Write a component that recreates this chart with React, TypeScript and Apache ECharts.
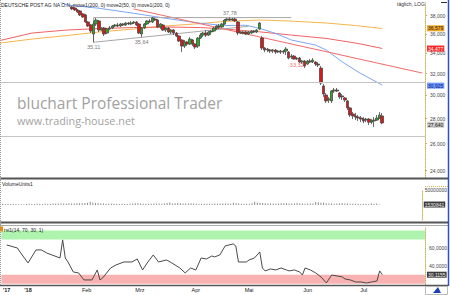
import { useEffect, useRef } from "react";
import * as echarts from "echarts";

const FONT = "'Liberation Sans', Arial, sans-serif";
const TITLE = "DEUTSCHE POST AG NA O.N. move1(200, 0) move2(50, 0) move1(200, 0)";

const FIRST_DAY = "2017-12-14";
const SLOT_COUNT = 160;
const HOLIDAYS = ["2017-12-25", "2017-12-26", "2018-01-01", "2018-03-30", "2018-04-02", "2018-05-01"];
const X_LABELS: [string, string][] = [
  ["2017-12-18", "'17"], ["2018-01-02", "'18"], ["2018-02-01", "Feb"], ["2018-03-01", "Mrz"],
  ["2018-04-03", "Apr"], ["2018-05-02", "Mai"], ["2018-06-01", "Jun"], ["2018-07-02", "Jul"],
];

const PRICE_MIN = 23.48;
const PRICE_MAX = 39.45;
const PRICE_TICKS = [24, 26, 28, 30, 32, 34, 36, 38];
const VOLUME_TICKS = [50000000];
const RSI_TICKS = [40, 60];

// [open, close, low, high] per trading day
const candles: number[][] = [
  [40.0, 40.1, 39.85, 40.25], [40.1, 40.3, 39.95, 40.45], [40.3, 40.05, 39.9, 40.4], [40.05, 39.85, 39.7, 40.15],
  [39.85, 40.0, 39.75, 40.1], [40.0, 40.2, 39.9, 40.3], [40.2, 40.1, 39.95, 40.35], [40.1, 39.95, 39.85, 40.2],
  [39.95, 39.8, 39.7, 40.05], [39.8, 39.7, 39.62, 39.9], [39.7, 39.75, 39.62, 39.85], [39.75, 40.1, 39.7, 40.2],
  [40.1, 40.35, 40.0, 40.45], [40.35, 40.3, 40.15, 40.5], [40.3, 40.45, 40.2, 40.6], [40.45, 40.25, 40.1, 40.55],
  [40.25, 40.2, 40.05, 40.35], [40.2, 40.1, 39.95, 40.3], [40.1, 40.0, 39.85, 40.2], [40.0, 39.95, 39.8, 40.15],
  [39.95, 39.9, 39.75, 40.05], [39.9, 40.4, 39.85, 40.55], [40.4, 40.6, 40.3, 40.75], [40.6, 40.3, 40.2, 40.7],
  [40.3, 40.0, 39.9, 40.4], [40.0, 39.75, 39.65, 40.1], [39.75, 39.65, 39.6, 39.9],
  [38.99, 38.76, 38.64, 39.1], [38.87, 38.64, 38.53, 38.99], [38.64, 38.41, 38.3, 38.76], [38.53, 38.07, 37.96, 38.64],
  [38.19, 37.85, 37.74, 38.3], [38.07, 37.29, 37.18, 38.19], [37.29, 36.85, 36.74, 37.4], [36.96, 36.3, 36.09, 37.07],
  [35.98, 37.07, 35.11, 37.4], [37.07, 37.51, 36.85, 37.74], [37.4, 36.41, 36.2, 37.51], [36.41, 36.63, 36.3, 36.74],
  [36.63, 35.98, 35.77, 36.74], [36.09, 36.52, 35.98, 36.63], [36.52, 36.63, 36.41, 36.85], [36.63, 36.85, 36.52, 36.96],
  [36.85, 36.96, 36.74, 37.07], [36.96, 36.85, 36.74, 37.18], [36.85, 37.07, 36.74, 37.18], [37.07, 36.96, 36.85, 37.18],
  [36.96, 37.18, 36.85, 37.29], [37.18, 37.07, 36.96, 37.29], [37.07, 37.18, 36.96, 37.4], [37.18, 37.29, 37.07, 37.4],
  [37.29, 36.96, 36.85, 37.4], [37.07, 36.09, 35.98, 37.18], [35.98, 36.63, 35.64, 36.74], [36.63, 37.07, 36.52, 37.18],
  [37.07, 37.4, 36.96, 37.51], [37.4, 37.29, 37.18, 37.62], [37.29, 37.74, 37.18, 37.85], [37.62, 37.51, 37.4, 37.74],
  [37.51, 36.74, 36.63, 37.62], [36.74, 37.07, 36.52, 37.18], [36.96, 36.41, 36.3, 37.07], [36.41, 36.63, 36.2, 36.74],
  [36.63, 36.2, 36.09, 36.74], [36.2, 36.41, 35.98, 36.52], [36.41, 36.09, 35.87, 36.52], [36.09, 35.77, 35.66, 36.2],
  [35.77, 35.24, 35.14, 35.87], [35.35, 34.72, 34.11, 35.45], [34.72, 35.14, 34.52, 35.35], [35.14, 34.93, 34.72, 35.24],
  [34.93, 35.45, 34.83, 35.66], [35.35, 34.93, 34.72, 35.45], [34.93, 34.62, 34.42, 35.03], [34.72, 35.56, 34.52, 35.66],
  [35.56, 35.87, 35.45, 36.09], [35.87, 36.09, 35.66, 36.2], [36.09, 35.87, 35.66, 36.41], [35.87, 36.2, 35.77, 36.3],
  [36.2, 36.3, 35.87, 36.41], [36.3, 36.63, 36.2, 36.74], [36.63, 36.85, 36.41, 36.96], [36.85, 36.74, 36.52, 37.07],
  [36.74, 37.07, 36.63, 37.18], [37.07, 37.51, 36.96, 37.62], [37.51, 37.62, 37.4, 37.74], [37.62, 37.51, 37.4, 37.78],
  [37.51, 37.62, 37.4, 37.74], [37.62, 37.4, 37.29, 37.74], [37.29, 36.09, 35.87, 37.4], [36.09, 36.2, 35.98, 36.3],
  [36.2, 36.05, 35.95, 36.3], [36.2, 35.98, 35.87, 36.3], [35.98, 36.2, 35.87, 36.3], [36.09, 36.3, 35.98, 36.41],
  [36.3, 36.2, 36.09, 36.41], [36.2, 36.41, 36.09, 36.52], [36.52, 37.18, 36.41, 37.29], [35.56, 34.52, 34.32, 35.77],
  [34.52, 34.32, 34.11, 34.62], [34.32, 34.42, 34.11, 34.52], [34.32, 34.21, 34.01, 34.42], [34.21, 34.32, 34.01, 34.42],
  [34.32, 34.11, 33.91, 34.42], [34.11, 34.21, 34.01, 34.32], [34.21, 34.11, 33.91, 34.32], [34.11, 34.21, 33.91, 34.32],
  [34.21, 34.42, 33.81, 34.62], [34.11, 33.51, 33.38, 34.21], [33.61, 33.71, 33.41, 33.91], [33.71, 33.41, 33.35, 33.81],
  [33.41, 33.51, 33.32, 33.61], [33.51, 33.12, 33.02, 33.61], [33.12, 33.21, 32.92, 33.31], [33.21, 32.73, 32.53, 33.31],
  [32.92, 33.21, 32.82, 33.31], [33.21, 33.12, 33.02, 33.41], [33.12, 33.31, 33.02, 33.51], [33.12, 32.92, 32.73, 33.21],
  [32.92, 32.82, 32.63, 33.12], [32.53, 31.12, 30.94, 32.73], [30.85, 30.12, 29.86, 31.03], [30.03, 29.51, 29.33, 30.21],
  [29.59, 29.68, 29.33, 29.86], [29.51, 30.39, 29.33, 30.48], [30.39, 30.48, 30.21, 30.66], [30.48, 30.39, 30.3, 30.66],
  [30.21, 29.86, 29.68, 30.3], [29.95, 29.86, 29.59, 30.12], [29.77, 29.59, 29.42, 29.86], [29.51, 28.9, 28.72, 29.59],
  [28.9, 28.3, 28.13, 28.99], [28.39, 28.22, 27.96, 28.55], [28.22, 28.13, 27.88, 28.47], [28.13, 28.05, 27.8, 28.3],
  [28.05, 27.96, 27.71, 28.22], [27.96, 27.8, 27.63, 28.13], [27.88, 27.96, 27.71, 28.05], [27.96, 27.71, 27.47, 28.05],
  [27.71, 27.8, 27.55, 27.96], [27.8, 27.88, 27.31, 28.13], [27.88, 28.05, 27.8, 28.3], [28.05, 28.3, 27.96, 28.55],
  [28.22, 27.64, 27.55, 28.47],
];

// moving averages: [trading-day index, value]
const maOrange: [number, number][] = [
  [0, 35.03], [12, 35.45], [25, 35.82], [37, 36.2], [50, 36.52], [62, 36.85], [75, 37.12],
  [84, 37.35], [97, 37.51], [108, 37.4], [122, 37.18], [133, 36.9], [143, 36.579],
];
const maRed: [number, number][] = [
  [0, 35.3], [12, 36.09], [25, 36.41], [37, 36.57], [50, 36.68], [62, 36.74], [75, 36.68],
  [84, 36.52], [97, 36.22], [109, 35.87], [122, 35.52], [134, 34.99], [143, 34.477],
];
const maBlue: [number, number][] = [
  [18, 40.2], [25, 39.22], [37, 38.84], [50, 38.27], [62, 37.7], [75, 37.15], [84, 36.9], [92, 36.93],
  [97, 36.6], [103, 36.06], [109, 35.35], [118, 34.83], [122, 34.32], [128, 33.14], [134, 32.15], [143, 30.925],
];

// drawn lines
const trendRed: [number, number][] = [[50, 38.76], [158, 32.05]];
const rangeBox: [number, number][] = [[109, 37.78], [35, 37.78], [35, 35.11], [93, 36.82]];
const levelLines = [31.2, 26.45];
const pivots: { slot: number; value: number; pos: "top" | "bottom"; color: string }[] = [
  { slot: 35, value: 35.11, pos: "bottom", color: "#7a7a7a" },
  { slot: 53, value: 35.64, pos: "bottom", color: "#7a7a7a" },
  { slot: 86, value: 37.78, pos: "top", color: "#7a7a7a" },
  { slot: 111, value: 33.32, pos: "bottom", color: "#f07070" },
];

// volume in millions
const volumeM = [
  3.2, 3.8, 3.5, 4.1, 3.6, 3.9, 3.0, 2.4, 2.2, 2.1,
  3.4, 3.9, 3.3, 3.6, 4.2, 3.8, 3.5, 3.9, 4.4, 3.7,
  5.2, 4.8, 4.1, 4.6, 5.1, 4.4, 5.8, 5.3, 4.9, 5.6,
  6.2, 5.9, 6.8, 7.4, 10.5, 8.2, 6.4, 5.7, 5.1, 4.8,
  4.3, 4.0, 3.8, 4.2, 3.9, 3.6, 4.1, 3.7, 3.5, 4.0,
  4.6, 6.1, 5.8, 4.9, 4.4, 4.0, 3.9, 4.2, 5.0, 4.5,
  4.8, 4.3, 5.2, 6.9, 8.7, 5.4, 5.9, 6.6, 5.5, 4.9,
  4.7, 5.1, 5.6, 5.3, 4.5, 4.1, 3.8, 4.2, 3.9, 4.4,
  4.0, 4.6, 4.3, 4.8, 5.2, 4.7, 4.9, 4.1, 7.8, 6.0,
  4.8, 4.4, 4.1, 4.0, 3.8, 5.5, 11.2, 8.4, 7.1, 6.3,
  5.9, 5.4, 5.0, 4.7, 4.5, 4.9, 6.2, 5.1, 5.5, 4.8,
  5.3, 5.0, 6.4, 5.2, 4.6, 4.4, 4.9, 5.1, 5.4, 10.3,
  8.8, 7.2, 8.1, 6.0, 5.2, 4.8, 4.5, 4.9, 5.6, 5.9,
  5.1, 4.6, 4.2, 4.0, 4.4, 3.9, 3.6, 3.8, 4.1, 3.7,
  4.6, 4.3, 4.9, 1.530841,
];

const rsi: [number, number][] = [
  [2, 63.7], [4, 62.0], [6, 60.3], [7, 55.8], [10, 43.4], [13, 58.1], [15, 58.1], [17, 54.7], [19, 52.4],
  [22, 49.0], [23, 69.4], [24, 49.0], [25, 44.5], [27, 33.2], [29, 32.1], [31, 24.2], [34, 24.2], [36, 35.5],
  [37, 24.2], [38, 26.4], [41, 37.7], [43, 41.1], [46, 44.5], [49, 44.5], [51, 47.9], [53, 35.5], [55, 44.5],
  [57, 52.4], [59, 44.5], [62, 46.8], [64, 43.4], [67, 37.7], [69, 32.1], [71, 37.7], [73, 35.5], [75, 49.0],
  [77, 47.9], [79, 51.3], [80, 50.2], [82, 52.4], [84, 62.6], [87, 64.9], [88, 62.6], [89, 44.5], [92, 44.5],
  [93, 46.8], [95, 49.0], [97, 55.8], [98, 37.7], [99, 34.4], [101, 36.6], [103, 35.5], [105, 37.7], [107, 35.5],
  [108, 34.4], [110, 35.5], [112, 33.2], [113, 29.8], [114, 37.7], [116, 35.5], [118, 32.1], [120, 27.6],
  [122, 20.8], [124, 29.8], [126, 28.7], [128, 27.6], [129, 25.3], [131, 24.2], [133, 21.9], [135, 21.9],
  [137, 20.8], [139, 21.9], [141, 23.1], [142, 34.4], [143, 30.1155],
];
const RSI_BANDS: [number, number, string][] = [[70, 80, "#aef3ae"], [20, 30, "#f8b2b2"]];

function tradingDays(start: string, n: number): string[] {
  const out: string[] = [];
  const d = new Date(start + "T00:00:00Z");
  while (out.length < n) {
    const dow = d.getUTCDay();
    const s = d.toISOString().slice(0, 10);
    if (dow !== 0 && dow !== 6 && !HOLIDAYS.includes(s)) out.push(s);
    d.setUTCDate(d.getUTCDate() + 1);
  }
  return out;
}

const L = Math.log;
const de = (v: number, digits: number) => v.toFixed(digits).replace(".", ",");

function valueBox(v: number, text: string, bg: string, fg: string, dy = 0) {
  return {
    yAxis: v,
    lineStyle: { width: 0, color: "rgba(0,0,0,0)" },
    label: {
      show: true, position: "end", distance: 2, formatter: text, offset: [0, dy],
      backgroundColor: bg, color: fg, fontSize: 5, fontFamily: FONT, padding: [1, 1, 0, 1],
    },
  };
}

function buildOption() {
  const dates = tradingDays(FIRST_DAY, SLOT_COUNT);
  const labelMap: Record<string, string> = {};
  X_LABELS.forEach(([d, t]) => (labelMap[d] = t));
  const logPairs = (arr: [number, number][]) => arr.map(([s, v]) => [s, L(v)]);
  const lastClose = candles[candles.length - 1][1];
  const lastVol = volumeM[volumeM.length - 1] * 1e6;
  const lastRsi = rsi[rsi.length - 1][1];

  const maSeries = (data: [number, number][], color: string, bg: string, fg: string) => {
    const last = data[data.length - 1][1];
    return {
      type: "line", xAxisIndex: 0, yAxisIndex: 0, data: logPairs(data), showSymbol: false, silent: true,
      lineStyle: { color, width: 1 }, z: 3,
      markLine: { silent: true, symbol: ["none", "none"], data: [valueBox(L(last), de(last, 3), bg, fg)] },
    };
  };

  const xAxisBase = {
    type: "category", data: dates, boundaryGap: false,
    axisLine: { show: false }, axisTick: { show: false }, splitLine: { show: false },
  };

  return {
    animation: false,
    textStyle: { fontFamily: FONT },
    grid: [
      { left: 0, right: 25, top: 3, height: 175 },
      { left: 0, right: 25, top: 190, height: 30 },
      { left: 0, right: 25, top: 227, height: 58 },
    ],
    xAxis: [
      { ...xAxisBase, gridIndex: 0, axisLabel: { show: false } },
      { ...xAxisBase, gridIndex: 1, axisLabel: { show: false } },
      {
        ...xAxisBase, gridIndex: 2,
        axisLabel: {
          show: true, margin: 2, fontSize: 5.5, color: "#222",
          interval: (_i: number, v: string) => labelMap[v] !== undefined,
          formatter: (v: string) => {
            const t = labelMap[v] || "";
            return t.startsWith("'") ? `{b|${t}}` : t;
          },
          rich: { b: { fontWeight: "bold", fontSize: 5.5, color: "#222" } },
        },
      },
    ],
    yAxis: [
      {
        type: "value", gridIndex: 0, position: "right", min: L(PRICE_MIN), max: L(PRICE_MAX),
        splitLine: { show: false },
        axisLine: { show: true, lineStyle: { color: "#cbb45c", type: "dotted" } },
        axisTick: { show: true, length: 2, customValues: PRICE_TICKS.map(L), lineStyle: { color: "#cbb45c" } },
        axisLabel: {
          customValues: PRICE_TICKS.map(L), margin: 5, fontSize: 5, color: "#444",
          formatter: (v: number) => de(Math.exp(v), 3),
        },
      },
      {
        type: "value", gridIndex: 1, position: "right", min: -50000000, max: 50000000,
        splitLine: { show: false },
        axisLine: { show: true, lineStyle: { color: "#cbb45c", type: "dotted" } },
        axisTick: { show: false },
        axisLabel: { customValues: VOLUME_TICKS, margin: 3, fontSize: 5, color: "#444", formatter: (v: number) => String(v) },
      },
      {
        type: "value", gridIndex: 2, position: "right", min: 18.5, max: 84,
        splitLine: { show: false },
        axisLine: { show: true, lineStyle: { color: "#cbb45c", type: "dotted" } },
        axisTick: { show: false },
        axisLabel: { customValues: RSI_TICKS, margin: 4, fontSize: 5, color: "#444", formatter: (v: number) => de(v, 4) },
      },
    ],
    series: [
      {
        type: "candlestick", xAxisIndex: 0, yAxisIndex: 0, barWidth: 3, clip: true, silent: true, z: 4,
        data: candles.map((c) => c.map(L)),
        itemStyle: { color: "#22b022", color0: "#e01515", borderColor: "#4a4a4a", borderColor0: "#4a4a4a", borderWidth: 0.8 },
        markLine: {
          silent: true, symbol: ["none", "none"],
          data: [
            ...levelLines.map((v) => ({ yAxis: L(v), lineStyle: { color: "#c4c4c4", width: 1, type: "solid" }, label: { show: false } })),
            valueBox(L(lastClose), de(lastClose, 3), "#cfcfcf", "#111", 2),
          ],
        },
        markPoint: {
          silent: true,
          data: pivots.map((p) => ({
            coord: [p.slot, L(p.value)], symbol: "circle", symbolSize: 0,
            label: { show: true, position: p.pos, distance: 2, formatter: de(p.value, 2), fontSize: 5.5, color: p.color, fontFamily: FONT },
          })),
        },
      },
      maSeries(maOrange, "#f7b54c", "#f0a428", "#222"),
      maSeries(maRed, "#f26262", "#ff2626", "#fff"),
      maSeries(maBlue, "#7ea6f5", "#6a98ff", "#14206e"),
      {
        type: "line", xAxisIndex: 0, yAxisIndex: 0, data: logPairs(trendRed), showSymbol: false, silent: true,
        lineStyle: { color: "#f46a6a", width: 1 }, z: 3,
      },
      {
        type: "line", xAxisIndex: 0, yAxisIndex: 0, data: logPairs(rangeBox), showSymbol: false, silent: true,
        lineStyle: { color: "#a8a8a8", width: 1 }, z: 3,
      },
      {
        type: "bar", xAxisIndex: 1, yAxisIndex: 1, barWidth: 1, silent: true,
        data: volumeM.map((v) => Math.round(v * 1e6)),
        itemStyle: { color: "#8c8c8c" },
        markLine: { silent: true, symbol: ["none", "none"], data: [valueBox(lastVol, String(Math.round(lastVol)), "#3c3c3c", "#f0f0f0")] },
      },
      {
        type: "line", xAxisIndex: 2, yAxisIndex: 2, data: rsi, showSymbol: false, silent: true,
        lineStyle: { color: "#4a4a4a", width: 1 }, z: 3,
        markArea: {
          silent: true,
          data: RSI_BANDS.map(([a, b, c]) => [{ yAxis: a, itemStyle: { color: c, opacity: 1 } }, { yAxis: b }]),
        },
        markLine: { silent: true, symbol: ["none", "none"], data: [valueBox(lastRsi, de(lastRsi, 4), "#3c3c3c", "#f0f0f0")] },
      },
    ],
    graphic: [
      { type: "text", left: 17, top: 95, z: 0, silent: true, style: { text: "bluchart Professional Trader", fontSize: 15.5, fontFamily: "'Open Sans', sans-serif", fill: "#a2a2a2" } },
      { type: "text", left: 17, top: 115, z: 0, silent: true, style: { text: "www.trading-house.net", fontSize: 10.8, fontFamily: "'Open Sans', sans-serif", fill: "#a2a2a2" } },
      { type: "text", left: 1, top: 2, z: 10, silent: true, style: { text: TITLE, fontSize: 5, fontFamily: FONT, fill: "#222" } },
      { type: "text", left: 397, top: 1, z: 10, silent: true, style: { text: "täglich, LOG", fontSize: 5, fontFamily: FONT, fill: "#333" } },
      { type: "text", left: 2, top: 181, z: 10, silent: true, style: { text: "VolumeUnits1", fontSize: 5, fontFamily: FONT, fill: "#222" } },
      { type: "rect", z: 10, silent: true, shape: { x: 0, y: 226.5, width: 3, height: 5 }, style: { fill: "#f08a00" } },
      { type: "text", left: 4, top: 227, z: 10, silent: true, style: { text: "rsi1(14, 70, 30, 1)", fontSize: 5, fontFamily: FONT, fill: "#222" } },
      { type: "line", z: 10, silent: true, shape: { x1: 0, y1: 178.5, x2: 448, y2: 178.5 }, style: { stroke: "#555", lineWidth: 2 } },
      { type: "line", z: 10, silent: true, shape: { x1: 0, y1: 222.5, x2: 448, y2: 222.5 }, style: { stroke: "#555", lineWidth: 2 } },
      { type: "line", z: 10, silent: true, shape: { x1: 0, y1: 225.5, x2: 448, y2: 225.5 }, style: { stroke: "#aaa", lineWidth: 1 } },
      { type: "line", z: 10, silent: true, shape: { x1: 0, y1: 285.5, x2: 448, y2: 285.5 }, style: { stroke: "#555", lineWidth: 1.5 } },
      { type: "line", z: 10, silent: true, shape: { x1: 448.5, y1: 0, x2: 448.5, y2: 286 }, style: { stroke: "#3050d0", lineWidth: 1.5 } },
      { type: "line", z: 10, silent: true, shape: { x1: 0.5, y1: 0, x2: 0.5, y2: 285 }, style: { stroke: "#999", lineWidth: 1, lineDash: [1, 1] } },
      { type: "line", z: 10, silent: true, shape: { x1: 425, y1: 186.5, x2: 448, y2: 186.5 }, style: { stroke: "#cbb45c", lineWidth: 1, lineDash: [1, 1] } },
      { type: "line", z: 10, silent: true, shape: { x1: 441, y1: 2.5, x2: 447, y2: 2.5 }, style: { stroke: "#333", lineWidth: 1 } },
      { type: "rect", z: 10, silent: true, shape: { x: 425.5, y: 286.5, width: 22, height: 8 }, style: { fill: "none", stroke: "#bbb", lineWidth: 1 } },
      { type: "polygon", z: 10, silent: true, shape: { points: [[433, 293], [438, 287], [441, 293]] }, style: { fill: "#1d3fb8" } },
    ],
  };
}

export default function App() {
  const ref = useRef<HTMLDivElement>(null);
  useEffect(() => {
    if (!ref.current) return;
    const chart = echarts.init(ref.current, null, { renderer: "svg" });
    chart.setOption(buildOption() as any);
    return () => chart.dispose();
  }, []);
  return <div ref={ref} style={{ width: 450, height: 295, position: "absolute", left: 0, top: 0, background: "#fff" }} />;
}
